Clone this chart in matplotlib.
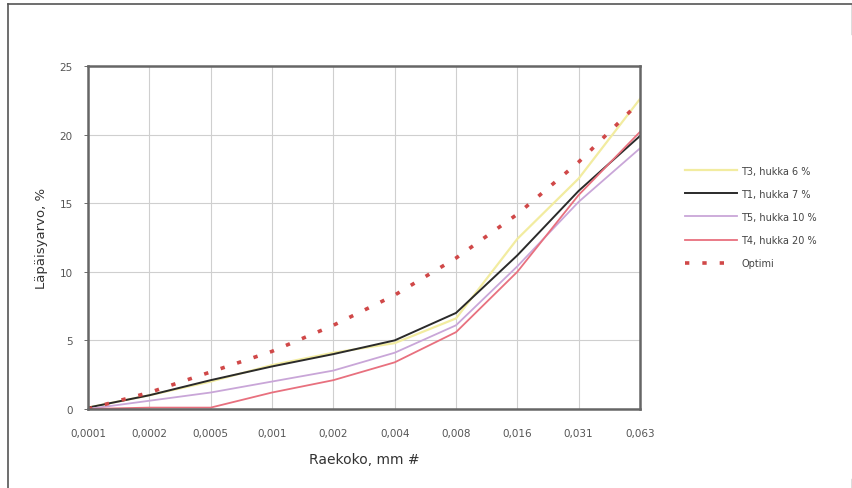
import matplotlib
matplotlib.use("Agg")
import matplotlib.pyplot as plt
from matplotlib.lines import Line2D
import numpy as np


# grain size classes (mm) and passing values (%)
categories = ["0,0001", "0,0002", "0,0005", "0,001", "0,002",
              "0,004", "0,008", "0,016", "0,031", "0,063"]
t3 = [0.1, 1.0, 2.0, 3.2, 4.1, 4.8, 6.6, 12.4, 16.8, 22.6]
t1 = [0.1, 1.0, 2.1, 3.1, 4.0, 5.0, 7.0, 11.2, 15.9, 19.9]
t5 = [0.0, 0.6, 1.2, 2.0, 2.8, 4.1, 6.1, 10.4, 15.1, 19.0]
t4 = [0.0, 0.1, 0.1, 1.2, 2.1, 3.4, 5.6, 10.0, 15.6, 20.2]
optimi = [0.0, 1.2, 2.7, 4.2, 6.1, 8.3, 11.0, 14.2, 18.0, 22.4]

labels = ["T3, hukka 6 %", "T1, hukka 7 %", "T5, hukka 10 %",
          "T4, hukka 20 %", "Optimi"]

fig = plt.figure(figsize=(8.53, 4.89), dpi=100)
ax = fig.add_axes([0.1032, 0.1616, 0.6471, 0.7014])

x = np.arange(len(categories))
ax.plot(x, t3, color="#f2eca0", lw=1.6, label=labels[0])
ax.plot(x, t1, color="#2a2a2a", lw=1.4, label=labels[1])
ax.plot(x, t5, color="#c9a6d8", lw=1.3, label=labels[2])
ax.plot(x, t4, color="#e8707e", lw=1.3, label=labels[3])
ax.plot(x, optimi, color="#d04848", lw=2.6, dashes=(1.2, 3.6), label=labels[4])

ax.set_xlim(0, 9)
ax.set_ylim(0, 25)
ax.set_xticks(x)
ax.set_xticklabels(categories)
ax.set_yticks([0, 5, 10, 15, 20, 25])
ax.grid(True, color="#cfcfcf", lw=0.8)
ax.set_axisbelow(True)
for s in ax.spines.values():
    s.set_color("#666666")
    s.set_linewidth(1.8)
ax.tick_params(axis="both", labelsize=7.5, colors="#555555", length=3,
               width=0.6, pad=8)
ax.tick_params(axis="x", length=0, pad=14)

ax.set_xlabel("Raekoko, mm #", fontsize=10, color="#333333", labelpad=10)
ax.set_ylabel("Läpäisyarvo, %", fontsize=9.5, color="#333333", labelpad=8)

leg = ax.legend(loc="upper left", bbox_to_anchor=(1.065, 0.735), frameon=False,
                fontsize=7, handlelength=5.4, handletextpad=0.45,
                labelspacing=1.35, labelcolor="#444444")

# outer frame of the figure
fc = "#555555"
fig.add_artist(Line2D([8 / 853, 1.0], [484 / 489, 484 / 489], color=fc, lw=1.2))
fig.add_artist(Line2D([8 / 853, 8 / 853], [0, 484 / 489], color=fc, lw=1.2))
fig.add_artist(Line2D([852 / 853, 852 / 853], [454 / 489, 484 / 489], color=fc, lw=1.0))
fig.add_artist(Line2D([852 / 853, 852 / 853], [0, 9 / 489], color=fc, lw=1.0))

fig.savefig("out.png", dpi=100)
